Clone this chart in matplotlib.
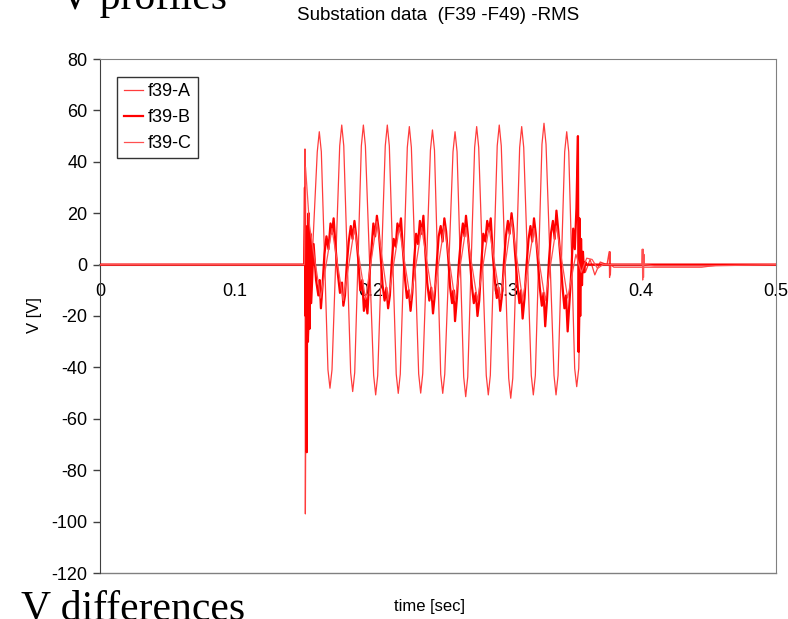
import matplotlib
matplotlib.use('Agg')
import matplotlib.pyplot as plt

plt.rcParams['font.family'] = ['Liberation Sans', 'DejaVu Sans']
plt.rcParams['axes.unicode_minus'] = False

# f39-A : large 60 Hz swing during the fault (vertices)
t_a = [0.0, 0.1512, 0.1516, 0.1519, 0.1525, 0.1540,
       0.1607, 0.1622, 0.1637, 0.1686, 0.1701, 0.1716,
       0.1773, 0.1788, 0.1803, 0.1854, 0.1869, 0.1884,
       0.1933, 0.1948, 0.1963, 0.2024, 0.2039, 0.2054,
       0.2110, 0.2125, 0.2140, 0.2191, 0.2206, 0.2221,
       0.2273, 0.2288, 0.2303, 0.2357, 0.2372, 0.2387,
       0.2444, 0.2459, 0.2474, 0.2520, 0.2535, 0.2550,
       0.2611, 0.2626, 0.2641, 0.2690, 0.2705, 0.2720,
       0.2771, 0.2786, 0.2801, 0.2857, 0.2872, 0.2887,
       0.2938, 0.2953, 0.2968, 0.3023, 0.3038, 0.3053,
       0.3104, 0.3119, 0.3134, 0.3190, 0.3205, 0.3220,
       0.3269, 0.3284, 0.3299, 0.3358, 0.3373, 0.3388,
       0.3437, 0.3452, 0.3467, 0.3511, 0.3526, 0.3541,
       0.3560, 0.3590, 0.3625, 0.3660, 0.3700, 0.3750, 0.3766, 0.3769,
       0.3772, 0.3775, 0.3778, 0.3800, 0.4450, 0.4600, 0.5]
v_a = [0, 0, 45, -97, -20, -30,
       43.9, 51.7, 43.9, -40.9, -48.1, -40.9,
       46.2, 54.3, 46.2, -42.0, -49.4, -42.0,
       46.2, 54.3, 46.2, -43.1, -50.7, -43.1,
       46.2, 54.3, 46.2, -42.6, -50.1, -42.6,
       45.6, 53.7, 45.6, -42.5, -50.0, -42.5,
       44.5, 52.4, 44.5, -42.6, -50.1, -42.6,
       43.9, 51.7, 43.9, -43.7, -51.4, -43.7,
       45.6, 53.7, 45.6, -43.1, -50.7, -43.1,
       46.2, 54.3, 46.2, -44.2, -52.0, -44.2,
       45.6, 53.7, 45.6, -43.1, -50.7, -43.1,
       46.8, 55.0, 46.8, -43.1, -50.7, -43.1,
       43.9, 51.7, 43.9, -40.4, -47.5, -40.4,
       6, -3, 2, -4, 1, 0, 5, -5,
       5, -4, 0, -1, -1, 0, 0]

# f39-B : noisy trace, thick
t_b = [0.0, 0.1510, 0.1516, 0.1520, 0.1525, 0.1529, 0.1533, 0.1538, 0.1543,
       0.1550, 0.1556, 0.1562, 0.1580, 0.1598, 0.1615, 0.1625, 0.1634, 0.1645,
       0.1660, 0.1675, 0.1690, 0.1705, 0.1716, 0.1728, 0.1745, 0.1760, 0.1775,
       0.1790, 0.1800, 0.1812, 0.1825, 0.1840, 0.1855, 0.1868, 0.1882, 0.1895,
       0.1910, 0.1925, 0.1940, 0.1952, 0.1965, 0.1978, 0.1992, 0.2008, 0.2022,
       0.2035, 0.2048, 0.2060, 0.2075, 0.2090, 0.2105, 0.2118, 0.2131, 0.2144,
       0.2158, 0.2172, 0.2187, 0.2200, 0.2214, 0.2226, 0.2240, 0.2255, 0.2270,
       0.2284, 0.2297, 0.2310, 0.2324, 0.2338, 0.2352, 0.2366, 0.2379, 0.2392,
       0.2406, 0.2420, 0.2436, 0.2450, 0.2463, 0.2476, 0.2490, 0.2505, 0.2520,
       0.2534, 0.2547, 0.2560, 0.2575, 0.2590, 0.2604, 0.2616, 0.2626, 0.2640,
       0.2655, 0.2670, 0.2684, 0.2696, 0.2707, 0.2720, 0.2736, 0.2750, 0.2765,
       0.2780, 0.2792, 0.2805, 0.2820, 0.2835, 0.2850, 0.2864, 0.2877, 0.2890,
       0.2905, 0.2920, 0.2935, 0.2948, 0.2960, 0.2973, 0.2988, 0.3002, 0.3017,
       0.3030, 0.3044, 0.3057, 0.3072, 0.3088, 0.3102, 0.3114, 0.3126, 0.3140,
       0.3155, 0.3170, 0.3184, 0.3197, 0.3210, 0.3223, 0.3238, 0.3253, 0.3268,
       0.3281, 0.3293, 0.3306, 0.3320, 0.3335, 0.3350, 0.3363, 0.3376, 0.3390,
       0.3405, 0.3420, 0.3435, 0.3447, 0.3459, 0.3472, 0.3487, 0.3500, 0.3512,
       0.3524, 0.3535, 0.3540, 0.3546, 0.3552, 0.3558, 0.3565, 0.3572, 0.3580,
       0.3590, 0.3600, 0.5]
v_b = [0, 0, 30, -20, 10, -73, 15, -30, 20,
       -25, 12, -15, 8, -6, -12, -6, -17, -9,
       4, 11, 6, 16, 12, 18, 5, -4, -11,
       -7, -16, -12, 0, 9, 15, 10, 17, 11,
       2, -10, -6, -18, -13, -19, -5, 6, 16,
       11, 19, 14, 4, -8, -14, -9, -17, -12,
       1, 10, 7, 16, 13, 18, 6, -5, -13,
       -10, -18, -11, 2, 12, 8, 17, 12, 19,
       5, -7, -14, -9, -19, -12, 0, 11, 15,
       9, 18, 13, 3, -9, -15, -10, -22, -13,
       1, 10, 16, 11, 19, 12, 2, -8, -15,
       -11, -20, -14, 0, 12, 9, 17, 13, 18,
       4, -6, -13, -9, -18, -12, 1, 11, 17,
       12, 20, 14, 3, -8, -15, -10, -21, -13,
       0, 10, 15, 9, 18, 12, 2, -9, -16,
       -11, -24, -14, 1, 12, 17, 10, 21, 13,
       3, -8, -17, -12, -26, -15, -2, 14, 6,
       22, 50, -34, 18, -20, 10, -8, 5, -3,
       1, 0, 0]

# f39-C : medium 60 Hz swing
t_c = [0.0, 0.1512, 0.1520, 0.1550, 0.1632, 0.1716, 0.1799, 0.1882, 0.1964,
       0.2048, 0.2131, 0.2214, 0.2297, 0.2379, 0.2463, 0.2547, 0.2626,
       0.2707, 0.2792, 0.2877, 0.2960, 0.3044, 0.3126, 0.3210, 0.3293,
       0.3376, 0.3459, 0.3520, 0.3560, 0.3600, 0.3640, 0.3680, 0.3720,
       0.4008, 0.4011, 0.4014, 0.4017, 0.4020, 0.4023, 0.4026, 0.4100,
       0.4500, 0.5]
v_c = [0, 0, 38, 15, -13, 14, -14, 14.1, -13.5,
       16.7, -13.8, 14.4, -14, 14.4, -13.8, 15, -14,
       14.4, -14, 14.5, -13.5, 17.4, -13.8, 14.1, -14,
       15, -13, 4, -3, 2.5, 2, -1.5, 0,
       0, 6, -6, 6, -5, 4, 0, -0.5,
       -0.5, 0]

labels = ['f39-A', 'f39-B', 'f39-C']

fig = plt.figure(figsize=(7.88, 6.19), dpi=100)
ax = fig.add_axes([100 / 788, 1 - 573 / 619, 676 / 788, 514 / 619])

ax.plot(t_a, v_a, color='#ff3c3c', lw=0.9, label=labels[0], zorder=3)
ax.plot(t_b, v_b, color='#ff0000', lw=1.6, label=labels[1], zorder=3)
ax.plot(t_c, v_c, color='#ff5050', lw=0.9, label=labels[2], zorder=3)

ax.set_xlim(0, 0.5)
ax.set_ylim(-120, 80)
ax.set_yticks(range(-120, 81, 20))
ax.set_xticks([0, 0.1, 0.2, 0.3, 0.4, 0.5])
ax.set_xticklabels(['0', '0.1', '0.2', '0.3', '0.4', '0.5'])

ax.spines['left'].set_color('#404040')
ax.spines['top'].set_color('#808080')
ax.spines['right'].set_color('#808080')
ax.spines['bottom'].set_position(('data', 0))
ax.spines['bottom'].set_color('#707070')
ax.spines['bottom'].set_linewidth(1.5)
ax.spines['bottom'].set_zorder(2)
ax.axhline(-120, color='#808080', lw=1, clip_on=False)

ax.tick_params(axis='y', length=5, width=1, color='#404040', labelsize=13, pad=4)
ax.tick_params(axis='x', length=0, labelsize=13, pad=13)

leg = ax.legend(loc='upper left', bbox_to_anchor=(0.0256, 0.9656),
                frameon=True, fancybox=False, borderaxespad=0,
                handlelength=1.1, handletextpad=0.25, labelspacing=0.5,
                borderpad=0.35, fontsize=13)
leg.get_frame().set_edgecolor('black')
leg.get_frame().set_linewidth(1)

fig.text(438 / 788, 1 - 16 / 619, 'Substation data  (F39 -F49) -RMS',
         ha='center', va='center', fontsize=13.5)
fig.text(35 / 788, 1 - 315 / 619, 'V [V]', rotation=90,
         ha='center', va='center', fontsize=12)
fig.text(429 / 788, 1 - 607 / 619, 'time [sec]',
         ha='center', va='center', fontsize=12)

fig.text(60 / 788, 1 - 9 / 619, 'V profiles', family='Liberation Serif',
         fontsize=30, ha='left', va='baseline')
fig.text(21 / 788, 1 - 619 / 619, 'V differences', family='Liberation Serif',
         fontsize=30, ha='left', va='baseline')

fig.savefig('out.png', dpi=100)
